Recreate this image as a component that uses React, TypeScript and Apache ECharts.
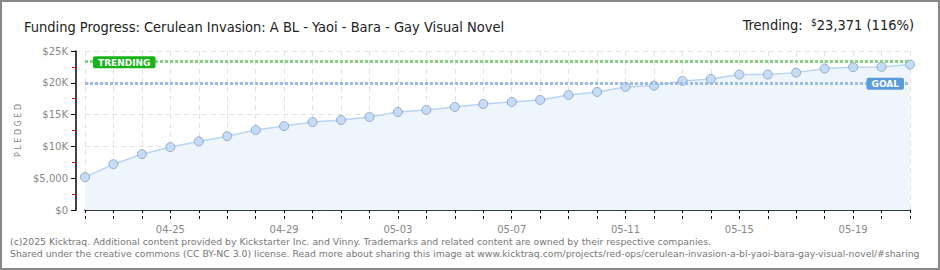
import React, { useEffect, useRef } from "react";
import * as echarts from "echarts";

const titleText = "Funding Progress: Cerulean Invasion: A BL - Yaoi - Bara - Gay Visual Novel";
const trendingText = "23,371 (116%)";
const dates = [
  "04-22", "04-23", "04-24", "04-25", "04-26", "04-27", "04-28", "04-29", "04-30",
  "05-01", "05-02", "05-03", "05-04", "05-05", "05-06", "05-07", "05-08", "05-09", "05-10",
  "05-11", "05-12", "05-13", "05-14", "05-15", "05-16", "05-17", "05-18", "05-19", "05-20", "05-21",
];
const pledged = [
  5160, 7200, 8780, 9890, 10780, 11600, 12570, 13200, 13830,
  14150, 14620, 15410, 15730, 16200, 16670, 16990, 17300, 18090, 18560,
  19350, 19560, 20300, 20600, 21300, 21300, 21600, 22240, 22450, 22500, 22870,
];
const goal = 20000;
const trending = 23371;
const footer1 =
  "(c)2025 Kicktraq. Additional content provided by Kickstarter Inc. and Vinny. Trademarks and related content are owned by their respective companies.";
const footer2 =
  "Shared under the creative commons (CC BY-NC 3.0) license. Read more about sharing this image at www.kicktraq.com/projects/red-ops/cerulean-invasion-a-bl-yaoi-bara-gay-visual-novel/#sharing";

const FONT = "'DejaVu Sans', sans-serif";
const TITLE_FONT = "'Liberation Sans Narrow', 'DejaVu Sans Condensed', 'Roboto Condensed', 'Liberation Sans', sans-serif";

export default function App() {
  const ref = useRef<HTMLDivElement>(null);
  useEffect(() => {
    if (!ref.current) return;
    const chart = echarts.init(ref.current, null, { renderer: "svg" });
    const yFmt = (v: number) => {
      if (v === 0) return "$0";
      if (v < 10000) return "$" + v.toLocaleString("en-US");
      return "$" + v / 1000 + "K";
    };
    chart.setOption({
      animation: false,
      backgroundColor: "#fff",
      title: [
        {
          text: titleText,
          left: 19,
          top: 14,
          textStyle: { fontFamily: TITLE_FONT, fontSize: 14.5, fontWeight: "normal", color: "#222" },
        },
        {
          text: "{l|Trending:  }{s|$}{v|" + trendingText + "}",
          right: 21,
          top: 12,
          textStyle: {
            fontWeight: "normal",
            rich: {
              l: { fontFamily: TITLE_FONT, fontSize: 14.5, fontWeight: "normal", color: "#222" },
              s: { fontFamily: TITLE_FONT, fontSize: 10, fontWeight: "normal", color: "#222", verticalAlign: "top", padding: [0, 0, 5, 0] },
              v: { fontFamily: TITLE_FONT, fontSize: 14.5, fontWeight: "normal", color: "#222" },
            },
          },
        },
      ],
      grid: { left: 85, right: 30, top: 51, bottom: 60, containLabel: false },
      xAxis: [
        {
          type: "category",
          data: dates,
          boundaryGap: false,
          offset: 9,
          axisLine: { show: true, lineStyle: { color: "#000", width: 1.5 } },
          axisTick: { show: true, interval: 0, length: 3, lineStyle: { color: "#000" } },
          axisLabel: {
            interval: (i: number) => (i - 3) % 4 === 0,
            color: "#888",
            fontFamily: FONT,
            fontSize: 10,
            margin: 5,
          },
          splitLine: { show: true, interval: 0, lineStyle: { color: "#e2e2e2", type: [5, 4] } },
        },
        {
          type: "category",
          data: dates,
          boundaryGap: false,
          offset: 9,
          position: "bottom",
          axisLine: { show: false },
          axisTick: { show: true, inside: true, interval: 0, length: 3, lineStyle: { color: "#000" } },
          axisLabel: { show: false },
          splitLine: { show: false },
        },
      ],
      yAxis: {
        type: "value",
        min: 0,
        max: 25000,
        interval: 5000,
        offset: 9,
        name: "P L E D G E D",
        nameLocation: "middle",
        nameGap: 53,
        nameTextStyle: { color: "#888", fontFamily: FONT, fontSize: 8 },
        axisLine: { show: true, lineStyle: { color: "#000", width: 1.5 } },
        axisTick: { show: true, length: 5, lineStyle: { color: "#000" } },
        minorTick: { show: true, splitNumber: 2, length: 4, lineStyle: { color: "#ee0000" } },
        axisLabel: { formatter: yFmt, color: "#888", fontFamily: FONT, fontSize: 10, margin: 8 },
        splitLine: { show: true, lineStyle: { color: "#e2e2e2", type: [5, 4] } },
      },
      series: [
        {
          type: "line",
          data: pledged,
          xAxisIndex: 0,
          symbol: "circle",
          symbolSize: 9,
          lineStyle: { color: "#b9d5f3", width: 1.5 },
          itemStyle: { color: "#c6dcf6", borderColor: "#93abca", borderWidth: 1 },
          areaStyle: { color: "#eef5fd", opacity: 1 },
          markLine: {
            silent: true,
            symbol: "none",
            data: [
              {
                yAxis: trending,
                lineStyle: { color: "#86d386", width: 3, type: [3, 2] },
                label: {
                  show: true,
                  formatter: "TRENDING",
                  position: "insideStartTop",
                  distance: [8, -7],
                  color: "#fff",
                  fontFamily: FONT,
                  fontSize: 9,
                  fontWeight: "bold",
                  backgroundColor: "#17b417",
                  padding: [2, 5, 1, 5],
                  borderRadius: 2,
                },
              },
              {
                yAxis: goal,
                lineStyle: { color: "#9dbce4", width: 3, type: [3, 2] },
                label: {
                  show: true,
                  formatter: "GOAL",
                  position: "insideEndTop",
                  distance: [6, -7],
                  color: "#fff",
                  fontFamily: FONT,
                  fontSize: 9,
                  fontWeight: "bold",
                  backgroundColor: "#5b9bdc",
                  padding: [2, 5, 1, 5],
                  borderRadius: 2,
                },
              },
            ],
          },
        },
      ],
      graphic: [
        {
          type: "rect",
          silent: true,
          shape: { x: 1, y: 1, width: 938, height: 268 },
          style: { fill: "none", stroke: "#888", lineWidth: 2 },
        },
        {
          type: "text",
          left: 10,
          top: 237,
          style: { text: footer1, fill: "#777", font: "9.3px 'DejaVu Sans', sans-serif" },
        },
        {
          type: "text",
          left: 10,
          top: 249,
          style: { text: footer2, fill: "#777", font: "9.3px 'DejaVu Sans', sans-serif" },
        },
      ],
    });
    return () => chart.dispose();
  }, []);
  return (
    <div
      ref={ref}
      style={{ position: "fixed", left: 0, top: 0, width: 940, height: 270 }}
    />
  );
}
